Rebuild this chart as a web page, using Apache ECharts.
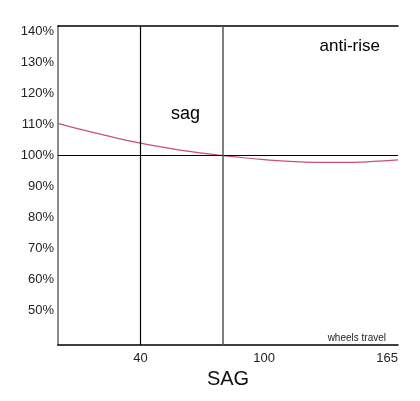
<!DOCTYPE html>
<html><head><meta charset="utf-8">
<script src="https://cdn.jsdelivr.net/npm/echarts@6/dist/echarts.min.js"></script>
<style>html,body{margin:0;padding:0;background:#fff}#c{width:420px;height:401px}</style>
</head><body><div id="c"></div>
<script>
const travel = [0,10,20,30,40,50,60,70,80,90,100,110,120,130,140,150,160,165];
const ratio  = [110.3,108.5,106.9,105.3,103.9,102.7,101.6,100.7,99.9,99.2,98.6,98.1,97.8,97.7,97.7,97.9,98.3,98.5];
const xTicks = [40,100,165];
const yTicks = [50,60,70,80,90,100,110,120,130,140];
const refLinesX = [40,80];
const refLineY = 100;

const font = 'Liberation Sans, Arial, sans-serif';
const chart = echarts.init(document.getElementById('c'));
const yCommon = {type:'value', min:38.8, max:141.7, splitLine:{show:false}, axisTick:{show:false}};
const xCommon = {type:'value', min:0, max:165, splitLine:{show:false}, axisTick:{show:false}};
chart.setOption({
  animation:false,
  grid:{left:58,right:22,top:26,bottom:56},
  xAxis:[
    Object.assign({}, xCommon, {position:'bottom',
      axisLine:{lineStyle:{color:'#000',width:1.5}},
      axisLabel:{customValues:xTicks, color:'#222', fontSize:13, fontFamily:font, margin:7, alignMaxLabel:'right'},
      name:'SAG', nameLocation:'middle', nameGap:19, nameTextStyle:{color:'#111',fontSize:20,fontFamily:font,verticalAlign:'top'}}),
    Object.assign({}, xCommon, {position:'top', axisLine:{lineStyle:{color:'#000',width:1.5}}, axisLabel:{show:false}})
  ],
  yAxis:[
    Object.assign({}, yCommon, {position:'left',
      axisLine:{lineStyle:{color:'#999',width:2}},
      axisLabel:{customValues:yTicks, formatter:'{value}%', color:'#222', fontSize:13, fontFamily:font, margin:4}}),
    Object.assign({}, yCommon, {position:'right', axisLine:{lineStyle:{color:'#888',width:1.5}}, axisLabel:{show:false}})
  ],
  series:[{
    type:'line', smooth:true, showSymbol:false,
    data: travel.map((t,i)=>[t, ratio[i]]),
    lineStyle:{color:'#c8507a', width:1.2},
    markLine:{symbol:'none', silent:true, label:{show:false},
      data:[
        {yAxis:refLineY, lineStyle:{color:'#000',width:1.2,type:'solid'}},
        {xAxis:refLinesX[0], lineStyle:{color:'#000',width:1.2,type:'solid'}},
        {xAxis:refLinesX[1], lineStyle:{color:'#555',width:1.5,type:'solid'}}
      ]}
  }],
  graphic:[
    {type:'text', left:171, top:105, style:{text:'sag', fontSize:18, fontFamily:font, fill:'#000'}},
    {type:'text', right:40, top:38, style:{text:'anti-rise', fontSize:17, fontFamily:font, fill:'#000'}},
    {type:'text', right:34, top:333, style:{text:'wheels travel', fontSize:10, fontFamily:font, fill:'#222'}}
  ]
});
</script></body></html>
